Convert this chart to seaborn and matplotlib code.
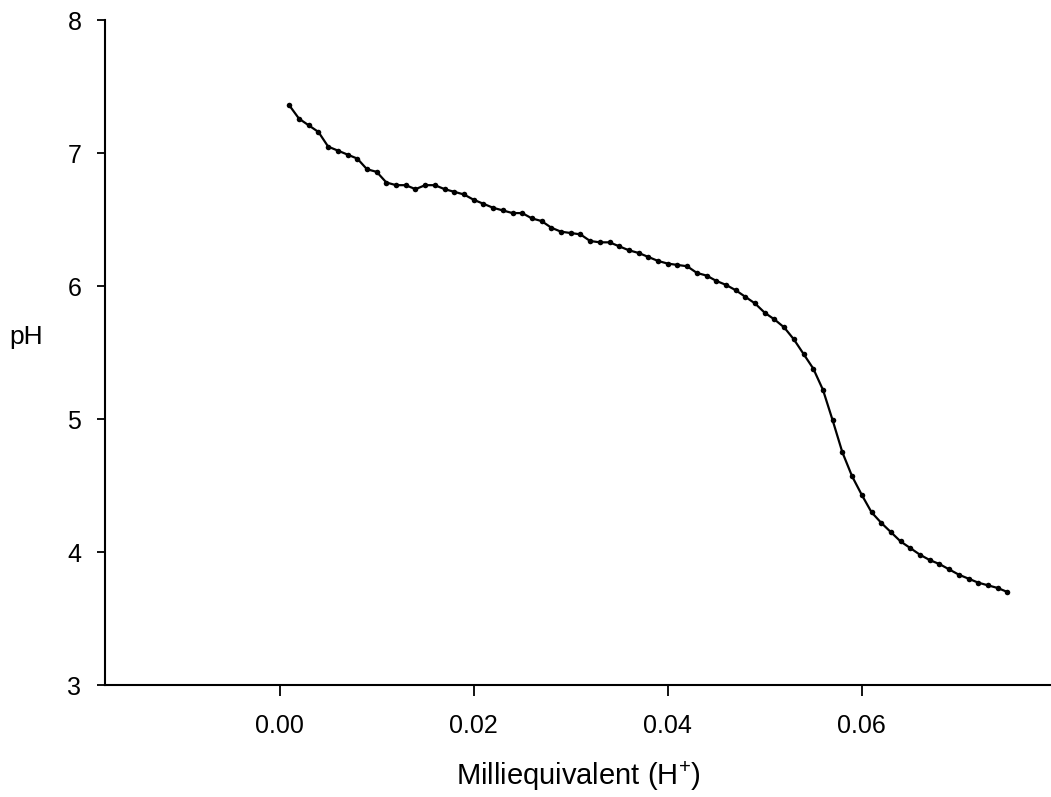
import matplotlib
matplotlib.use("Agg")
import matplotlib.pyplot as plt
import seaborn as sns
import pandas as pd

meq = [0.001, 0.002, 0.003, 0.004, 0.005, 0.006, 0.007, 0.008, 0.009, 0.010,
       0.011, 0.012, 0.013, 0.014, 0.015, 0.016, 0.017, 0.018, 0.019, 0.020,
       0.021, 0.022, 0.023, 0.024, 0.025, 0.026, 0.027, 0.028, 0.029, 0.030,
       0.031, 0.032, 0.033, 0.034, 0.035, 0.036, 0.037, 0.038, 0.039, 0.040,
       0.041, 0.042, 0.043, 0.044, 0.045, 0.046, 0.047, 0.048, 0.049, 0.050,
       0.051, 0.052, 0.053, 0.054, 0.055, 0.056, 0.057, 0.058, 0.059, 0.060,
       0.061, 0.062, 0.063, 0.064, 0.065, 0.066, 0.067, 0.068, 0.069, 0.070,
       0.071, 0.072, 0.073, 0.074, 0.075]
ph = [7.36, 7.26, 7.21, 7.16, 7.05, 7.02, 6.99, 6.96, 6.88, 6.86,
      6.78, 6.76, 6.76, 6.73, 6.76, 6.76, 6.73, 6.71, 6.69, 6.65,
      6.62, 6.59, 6.57, 6.55, 6.55, 6.51, 6.49, 6.44, 6.41, 6.40,
      6.39, 6.34, 6.33, 6.33, 6.30, 6.27, 6.25, 6.22, 6.19, 6.17,
      6.16, 6.15, 6.10, 6.08, 6.04, 6.01, 5.97, 5.92, 5.87, 5.80,
      5.75, 5.69, 5.60, 5.49, 5.38, 5.22, 4.99, 4.75, 4.57, 4.43,
      4.30, 4.22, 4.15, 4.08, 4.03, 3.98, 3.94, 3.91, 3.87, 3.83,
      3.80, 3.77, 3.75, 3.73, 3.70]
xticks = [0.00, 0.02, 0.04, 0.06]
xticklabels = ["0.00", "0.02", "0.04", "0.06"]
yticks = [3, 4, 5, 6, 7, 8]

sns.set_theme(style="ticks")
plt.rcParams["font.family"] = ["Liberation Sans", "DejaVu Sans"]
plt.rcParams["mathtext.fontset"] = "custom"
plt.rcParams["mathtext.rm"] = "Liberation Sans"

df = pd.DataFrame({"meq": meq, "ph": ph})

fig = plt.figure(figsize=(10.51, 7.97), dpi=100)
ax = fig.add_axes([0.0999, 0.1405, 0.9001, 0.834])

sns.lineplot(data=df, x="meq", y="ph", ax=ax, color="black", linewidth=1.6,
             marker="o", markersize=4, markeredgewidth=0, markerfacecolor="black")

ax.set_xlim(-0.018, 0.0795)
ax.set_ylim(3, 8)
ax.set_xticks(xticks)
ax.set_xticklabels(xticklabels)
ax.set_yticks(yticks)

for s in ["top", "right"]:
    ax.spines[s].set_visible(False)
for s in ["left", "bottom"]:
    ax.spines[s].set_linewidth(1.5)
    ax.spines[s].set_color("black")

ax.tick_params(axis="x", length=8, width=1.3, pad=13, labelsize=18, colors="black")
ax.tick_params(axis="y", length=6, width=1.3, pad=11, labelsize=18, colors="black")

ax.set_xlabel("Milliequivalent (H$^{\\mathregular{+}}$)", fontsize=21, color="black")
ax.xaxis.set_label_coords(0.5, -0.112)
ax.set_ylabel("pH", fontsize=19, rotation=0, color="black", ha="center", va="center")
ax.yaxis.set_label_coords(-0.0835, 0.524)

fig.savefig("out.png", dpi=100, facecolor="white")
